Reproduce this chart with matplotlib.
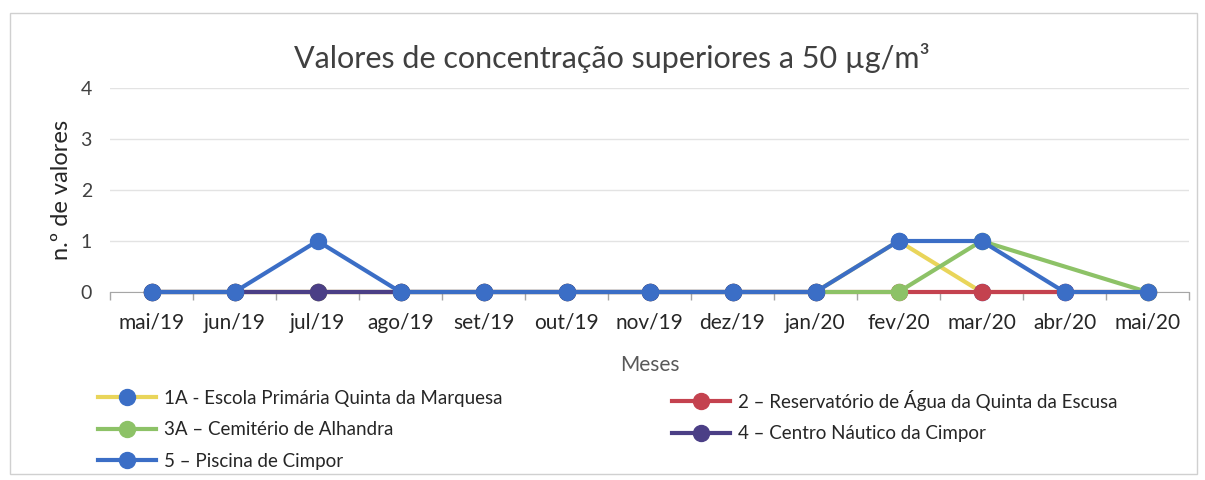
import numpy as np
import matplotlib
matplotlib.use("Agg")
import matplotlib.pyplot as plt
from matplotlib.lines import Line2D
from matplotlib.patches import Rectangle

plt.rcParams['font.family'] = ['Lato', 'DejaVu Sans']

# months on the x axis
months = ['mai/19', 'jun/19', 'jul/19', 'ago/19', 'set/19', 'out/19', 'nov/19',
          'dez/19', 'jan/20', 'fev/20', 'mar/20', 'abr/20', 'mai/20']
# number of values above 50 ug/m3, per station (None = no data)
s1A = [0, 0, 0, 0, 0, 0, 0, 0, 0, 1, 0, 0, 0]
s2 = [0, 0, 0, 0, 0, 0, 0, 0, 0, 0, 0, 0, 0]
s3A = [0, 0, 0, 0, 0, 0, 0, 0, 0, 0, 1, None, 0]
s4 = [0, 0, 0, 0, 0, 0, 0, 0, 0, None, None, None, None]
s5 = [0, 0, 1, 0, 0, 0, 0, 0, 0, 1, 1, 0, 0]

names = ['1A - Escola Primária Quinta da Marquesa',
         '2 – Reservatório de Água da Quinta da Escusa',
         '3A – Cemitério de Alhandra',
         '4 – Centro Náutico da Cimpor',
         '5 – Piscina de Cimpor']

yellow = '#E9D55A'
red = '#C4424F'
green = '#8DC267'
purple = '#4B3F86'
blue = '#3B6EC6'

series = [(s1A, yellow, blue), (s2, red, red), (s3A, green, green),
          (s4, purple, purple), (s5, blue, blue)]

fig = plt.figure(figsize=(12.05, 4.8), dpi=100)
ax = fig.add_axes([110 / 1205, 1 - 292 / 480, 1079 / 1205, 204 / 480])

# chart frame
fig.patches.append(Rectangle((10 / 1205, 6 / 480), 1187 / 1205, 461 / 480,
                             transform=fig.transFigure, fill=False,
                             edgecolor='#D0D0D0', linewidth=1))

handles = []
for (vals, lc, mc), name in zip(series, names):
    x = [i for i, v in enumerate(vals) if v is not None]
    y = [v for v in vals if v is not None]
    ax.plot(x, y, color=lc, linewidth=3, marker='o', markersize=11.5,
            markerfacecolor=mc, markeredgecolor=mc, clip_on=False, zorder=3)
    handles.append(Line2D([], [], color=lc, linewidth=3, marker='o', markersize=11.5,
                          markerfacecolor=mc, markeredgecolor=mc))

ax.set_xlim(-0.5, len(months) - 0.5)
ax.set_ylim(0, 4)
ax.set_yticks([0, 1, 2, 3, 4])
ax.set_xticks(range(len(months)))
ax.set_xticklabels(months)
ax.set_xticks(np.arange(-0.5, len(months), 1), minor=True)
ax.tick_params(axis='x', which='major', length=0, pad=15, labelsize=15, labelcolor='#262626')
ax.tick_params(axis='x', which='minor', length=6, color='#A6A6A6', width=1)
ax.tick_params(axis='y', length=0, pad=13, labelsize=14, labelcolor='#404040')
for s in ['top', 'right', 'left']:
    ax.spines[s].set_visible(False)
ax.spines['bottom'].set_color('#A6A6A6')
ax.grid(axis='y', color='#E3E3E3', linewidth=1)
ax.set_axisbelow(True)

ax.set_xlabel('Meses', fontsize=15, color='#595959', labelpad=16)
ax.set_ylabel('n.º de valores', fontsize=17, color='#262626', labelpad=6)

fig.text(0.508, 1 - 58 / 480, 'Valores de concentração superiores a 50 µg/m³',
         ha='center', va='center', fontsize=22, color='#404040')

leg_kw = dict(loc='upper left', frameon=False, fontsize=13.5, handlelength=3.1,
              handletextpad=0.4, labelspacing=0.76, borderaxespad=0, borderpad=0,
              labelcolor='#262626')
fig.legend([handles[0], handles[2], handles[4]], [names[0], names[2], names[4]],
           bbox_to_anchor=(98 / 1205, 1 - 390 / 480), **leg_kw)
fig.legend([handles[1], handles[3]], [names[1], names[3]],
           bbox_to_anchor=(672 / 1205, 1 - 390 / 480), **leg_kw)

fig.savefig('out.png', dpi=100, facecolor='white')
